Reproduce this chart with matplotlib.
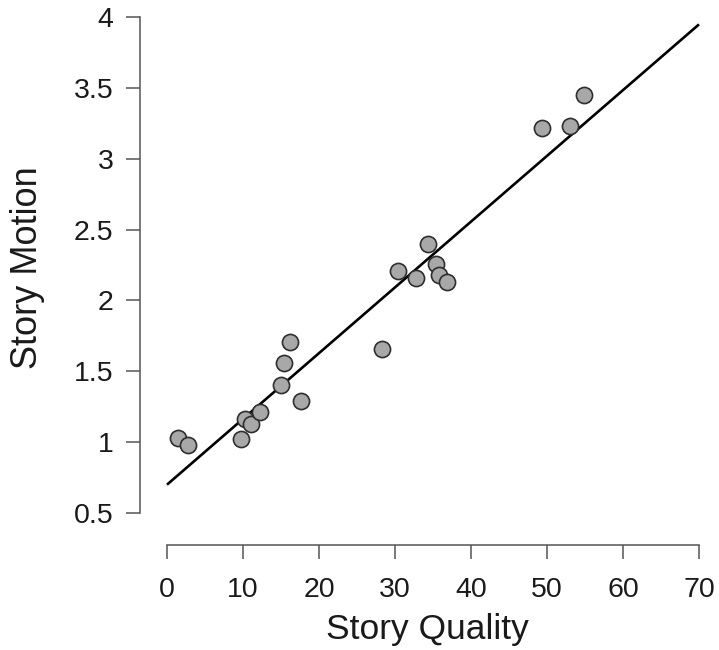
import matplotlib.pyplot as plt
import numpy as np

plt.rcParams["font.family"] = ["Liberation Sans", "DejaVu Sans"]

# values
story_quality = [1.5, 2.8, 9.8, 10.2, 11.0, 12.2, 15.0, 15.4, 16.2, 17.6,
                 28.3, 30.4, 32.8, 34.4, 35.4, 35.8, 36.8, 49.4, 53.0, 54.9]
story_motion = [1.03, 0.98, 1.02, 1.16, 1.13, 1.21, 1.40, 1.56, 1.71, 1.29,
                1.66, 2.21, 2.16, 2.40, 2.26, 2.18, 2.13, 3.22, 3.23, 3.45]
fit_intercept = 0.70
fit_slope = 0.0464

x_ticks = [0, 10, 20, 30, 40, 50, 60, 70]
y_ticks = [0.5, 1, 1.5, 2, 2.5, 3, 3.5, 4]
y_ticklabels = ["0.5", "1", "1.5", "2", "2.5", "3", "3.5", "4"]

W, H = 719, 650
fig = plt.figure(figsize=(W / 100, H / 100), dpi=100)

# axes box in pixels, chosen so x=0..70 -> 167..699 and y=0.5..4 -> 513..17
left, right, top, bottom = 140, 715, 10, 545
ax = fig.add_axes([left / W, 1 - bottom / H, (right - left) / W, (bottom - top) / H])
ppx = (699 - 167) / 70
ppy = (513 - 17) / 3.5
ax.set_xlim((left - 167) / ppx, (right - 167) / ppx)
ax.set_ylim(4 - (bottom - 17) / ppy, 4 + (17 - top) / ppy)

xs = np.array([0, 70])
ax.plot(xs, fit_intercept + fit_slope * xs, color="black", lw=1.9,
        solid_capstyle="butt", zorder=2)
ax.scatter(story_quality, story_motion, s=135, facecolor="#a8a8a8",
           edgecolor="#2e2e2e", linewidths=1.2, zorder=3)

for side in ["top", "right"]:
    ax.spines[side].set_visible(False)
for side in ["left", "bottom"]:
    ax.spines[side].set_color("#555555")
    ax.spines[side].set_linewidth(1.1)
ax.spines["bottom"].set_bounds(0, 70)
ax.spines["left"].set_bounds(0.5, 4)

ax.set_xticks(x_ticks)
ax.set_yticks(y_ticks)
ax.set_yticklabels(y_ticklabels)
ax.tick_params(axis="both", length=10, width=1.1, color="#555555",
               labelsize=20.5, labelcolor="#1a1a1a")
ax.tick_params(axis="x", pad=13)
ax.tick_params(axis="y", pad=9)

ax.set_xlabel("Story Quality", fontsize=25.5, color="#1a1a1a", labelpad=7)
ax.set_ylabel("Story Motion", fontsize=26, color="#1a1a1a")
# R-style label placement: centred a little above the axes middle
ax.yaxis.set_label_coords((45 - left) / (right - left), (bottom - 268) / (bottom - top))

fig.savefig("out.png", dpi=100)
